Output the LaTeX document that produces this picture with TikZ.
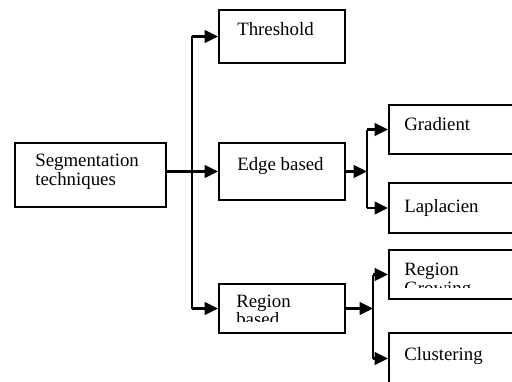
\documentclass[tikz,border=0pt]{standalone}
\usepackage{fontspec}
\setmainfont{Liberation Serif}
\usetikzlibrary{arrows.meta,fit}
\tikzset{
  box/.style={draw, line width=1.5pt, inner sep=0pt},
  lbl/.style={anchor=base west, inner sep=0pt, font=\fontsize{13.4}{15}\selectfont},
  conn/.style={line width=1.5pt},
  arr/.style={conn, -{Triangle[length=9.5pt,width=9pt]}}
}
\begin{document}
\begin{tikzpicture}[x=0.025cm, y=-0.025cm]
% Units are pixels of the 512 x 381 frame, y grows downwards
\useasboundingbox (0,0) rectangle (512,381);
\clip (0,0) rectangle (512,381);

% Root box
\node[box, fit={(15,143) (166,207)}] (seg) {};
% First level
\node[box, fit={(219,10) (345,63)}] (thr) {};
\node[box, fit={(219,143) (345,200)}] (edge) {};
\node[box, fit={(219,284) (345,333)}] (rbase) {};
% Second level (right sides run off the frame)
\node[box, fit={(389,105) (530,154)}] (grad) {};
\node[box, fit={(389,183) (530,233)}] (lap) {};
\node[box, fit={(389,250) (530,299)}] (rgrow) {};
\node[box, fit={(389,333) (530,384)}] (clus) {};

% Labels
\node[lbl] (segA) at (35,166) {Segmentation};
\node[lbl] (segB) at (35,185) {techniques};
\node[lbl] (thrA) at (237,36) {Threshold};
\node[lbl] (edgeA) at (237,170) {Edge based};
\node[lbl] (gradA) at (404,130) {Gradient};
\node[lbl] (lapA) at (404,212) {Laplacien};
\node[lbl] (clusA) at (404,360) {Clustering};
% second lines cut short by the box, as in the original
\begin{scope}
  \clip (rbase.north west) rectangle ([yshift=9]rbase.south east);
  \node[lbl] (rbaseA) at (236,307) {Region};
  \node[lbl] (rbaseB) at (236,325) {based};
\end{scope}
\begin{scope}
  \clip (rgrow.north west) rectangle ([yshift=9]rgrow.south east);
  \node[lbl] (rgrowA) at (404,275) {Region};
  \node[lbl] (rgrowB) at (404,294) {Growing};
\end{scope}

% Branch lines
\coordinate (trunk) at (192,0);
\coordinate (ebr) at (367,0);
\coordinate (rbr) at (373,0);

\draw[conn] (trunk |- thr.west) -- (trunk |- rbase.west);
\draw[arr] (trunk |- thr.west) -- (thr.west);
\draw[arr] (seg.east |- edge.west) -- (edge.west);
\draw[arr] (trunk |- rbase.west) -- (rbase.west);

\draw[arr] (edge.east) -- (ebr |- edge.east);
\draw[conn] (ebr |- grad.west) -- (ebr |- lap.west);
\draw[arr] (ebr |- grad.west) -- (grad.west);
\draw[arr] (ebr |- lap.west) -- (lap.west);

\draw[arr] (rbase.east) -- (rbr |- rbase.east);
\draw[conn] (rbr |- rgrow.west) -- (rbr |- clus.west);
\draw[arr] (rbr |- rgrow.west) -- (rgrow.west);
\draw[arr] (rbr |- clus.west) -- (clus.west);
\end{tikzpicture}
\end{document}
